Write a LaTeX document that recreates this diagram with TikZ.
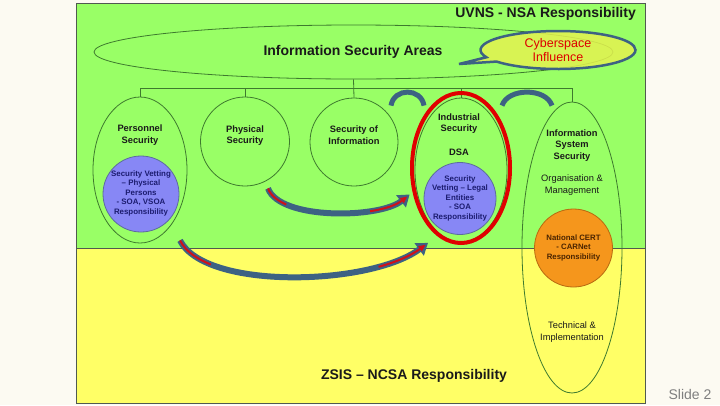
\documentclass[tikz,border=0pt]{standalone}
\usepackage{fontspec}
\setmainfont{Liberation Sans}
\usetikzlibrary{shapes.geometric,shapes.callouts,arrows.meta}
\definecolor{bgcream}{HTML}{FCFAF2}
\definecolor{upgreen}{HTML}{99FF66}
\definecolor{lowyellow}{HTML}{FFFF66}
\definecolor{outl}{HTML}{3E7A2E}
\definecolor{arcblue}{HTML}{3D6283}
\definecolor{vetblue}{HTML}{8787F5}
\definecolor{vetborder}{HTML}{5C6C9C}
\definecolor{vettxt}{HTML}{1C1C70}
\definecolor{certorange}{HTML}{F5961C}
\definecolor{certborder}{HTML}{B86A10}
\definecolor{certtxt}{HTML}{4A2400}
\definecolor{callfill}{HTML}{E4F250}
\definecolor{redring}{HTML}{E00000}
\definecolor{arrred}{HTML}{D0101A}
\definecolor{cybred}{HTML}{DD0000}
\definecolor{inktxt}{HTML}{1A1A1A}
\definecolor{slidegray}{HTML}{7F7F7F}
\definecolor{framecol}{HTML}{505A50}
\tikzset{
  titletxt/.style={font=\fontsize{14}{16}\selectfont\bfseries, text=inktxt, inner sep=0pt},
  lbl/.style={font=\fontsize{9.3}{11.5}\selectfont\bfseries, text=inktxt, align=center, inner sep=0pt},
  lblreg/.style={font=\fontsize{9.3}{11.5}\selectfont, text=inktxt, align=center, inner sep=0pt},
  vettext/.style={font=\fontsize{7.9}{9.5}\selectfont\bfseries, text=vettxt, align=center, inner sep=0pt},
  certtext/.style={font=\fontsize{7.8}{9.5}\selectfont\bfseries, text=certtxt, align=center, inner sep=0pt},
  areaell/.style={ellipse, draw=outl, line width=0.8pt, inner sep=0pt},
  areacirc/.style={circle, draw=outl, line width=0.8pt, inner sep=0pt},
  vetcirc/.style={circle, fill=vetblue, draw=vetborder, line width=0.8pt, inner sep=0pt},
  tree/.style={draw=outl, line width=0.8pt},
  bridge/.style={draw=arcblue, line width=5pt},
  bigarrow/.style={draw=arcblue, line width=6pt, -{Triangle[width=15pt,length=11pt]}},
  redcore/.style={draw=arrred, line width=2pt, -{Triangle[width=6pt,length=7pt]}},
}
\begin{document}
\begin{tikzpicture}[x=1pt,y=-1pt]
\useasboundingbox (0,0) rectangle (720,405);
\fill[bgcream] (0,0) rectangle (720,405);
\fill[upgreen] (76,3) rectangle (645,248);
\fill[lowyellow] (76,248) rectangle (645,403);
\draw[framecol, line width=0.8pt] (76,248) -- (645,248);
\draw[framecol, line width=1pt] (76,3) rectangle (645,403);

% titles
\node[titletxt, anchor=east] (uvns) at (636,14) {UVNS - NSA Responsibility};
\node[titletxt] (zsis) at (414,376) {ZSIS – NCSA Responsibility};
\node[font=\fontsize{14}{16}\selectfont, text=slidegray, inner sep=0pt] (slide) at (690,394) {Slide 2};

% information security areas
\node[areaell, minimum width=519pt, minimum height=54pt] (areas) at (353.5,52) {};
\node[titletxt] (areastxt) at (353,52) {Information Security Areas};

% area shapes
\node[areaell, minimum width=94pt, minimum height=146pt] (personnel) at (140,170) {};
\node[areacirc, minimum size=89pt] (physical) at (245,141.5) {};
\node[areacirc, minimum size=88pt] (secinfo) at (354,142) {};
\node[areaell, minimum width=92pt, minimum height=144pt] (industrial) at (461,170) {};
\node[areaell, minimum width=100pt, minimum height=291pt] (iss) at (572,247.5) {};

% tree
\coordinate (bus) at (0,88);
\draw[tree] (areas.south) -- (secinfo.north);
\draw[tree] (personnel.north |- bus) -- (iss.north |- bus);
\draw[tree] (personnel.north |- bus) -- (personnel.north);
\draw[tree] (physical.north |- bus) -- (physical.north);
\draw[tree] (industrial.north |- bus) -- (industrial.north);
\draw[tree] (iss.north |- bus) -- (iss.north);

% labels
\node[lbl] (personneltxt) at (140,135) {Personnel\\Security};
\node[lbl] (physicaltxt) at (245,135.5) {Physical\\Security};
\node[lbl] (secinfotxt) at (354,135) {Security of\\Information};
\node[lbl] (industrialtxt) at (459,123.5) {Industrial\\Security};
\node[lbl] (dsatxt) at (459,152) {DSA};
\node[lbl] (isstxt) at (572,145.5) {Information\\System\\Security};
\node[lblreg] (orgtxt) at (572,185) {Organisation \&\\Management};
\node[lblreg] (techtxt) at (572,332) {Technical \&\\Implementation};

% vetting circles
\node[vetcirc, minimum size=76pt] (pvet) at (141,194) {};
\node[vettext] (pvettxt) at (141,193) {Security Vetting\\– Physical\\Persons\\- SOA, VSOA\\Responsibility};
\node[vetcirc, minimum size=72pt] (ivet) at (460,198.5) {};
\node[vettext] (ivettxt) at (460,198) {Security\\Vetting – Legal\\Entities\\- SOA\\Responsibility};

% CERT
\node[circle, fill=certorange, draw=certborder, line width=0.8pt, inner sep=0pt, minimum size=78pt] (cert) at (573.5,248) {};
\node[certtext] (certtxtnode) at (573.5,247.5) {National CERT\\- CARNet\\Responsibility};

% red ring
\node[ellipse, draw=redring, line width=4pt, inner sep=0pt, minimum width=98pt, minimum height=150pt] (dsaring) at (461,168) {};

% callout
\node[ellipse callout, draw=arcblue, line width=2.5pt, fill=callfill, fill opacity=0.85, text opacity=1,
      minimum width=155pt, minimum height=38pt, inner sep=0pt, callout absolute pointer={(459,64)},
      font=\fontsize{12.5}{14}\selectfont, text=cybred, align=center] (cyber) at (558,50) {Cyberspace\\Influence};

% bridges
\draw[bridge] ([shift={(37,8)}]secinfo.north) .. controls +(3,-18) and +(-3,-18) .. ([shift={(-37,8)}]industrial.north);
\draw[bridge] ([shift={(41,8)}]industrial.north) .. controls +(6,-18) and +(-6,-18) .. ([shift={(-20,4)}]iss.north);

% curved arrows
\draw[bigarrow] ([shift={(23,2)}]physical.south) .. controls +(12,32) and +(-30,24) .. ([shift={(-14,-4)}]ivet.west);
\draw[redcore, dash pattern=on 25pt off 85pt on 80pt, shorten >=3pt] ([shift={(23,2)}]physical.south) .. controls +(12,32) and +(-30,24) .. ([shift={(-14,-4)}]ivet.west);
\draw[bigarrow] ([shift={(39,8)}]pvet.south) .. controls +(25,50) and +(-58,43) .. ([shift={(-32,8)}]ivet.south);
\draw[redcore, dash pattern=on 40pt off 170pt on 120pt, shorten >=3pt] ([shift={(39,8)}]pvet.south) .. controls +(25,50) and +(-58,43) .. ([shift={(-32,8)}]ivet.south);
\end{tikzpicture}
\end{document}
